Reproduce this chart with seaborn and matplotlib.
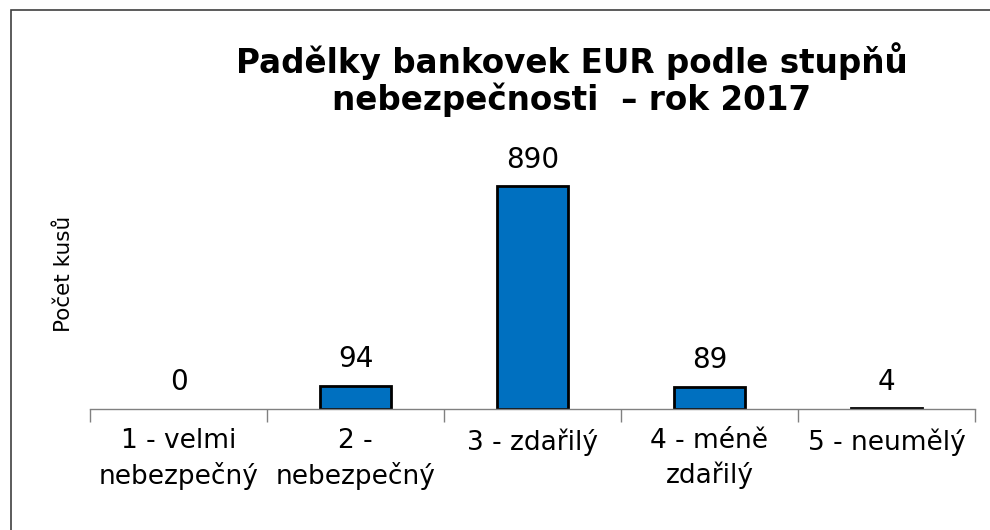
import matplotlib
matplotlib.use("Agg")
import matplotlib.pyplot as plt
import seaborn as sns
import pandas as pd
from matplotlib.patches import Rectangle

categories = ["1 - velmi\nnebezpečný", "2 -\nnebezpečný", "3 - zdařilý",
              "4 - méně\nzdařilý", "5 - neumělý"]
counts = [0, 94, 890, 89, 4]
title = "Padělky bankovek EUR podle stupňů\nnebezpečnosti  – rok 2017"
ylabel = "Počet kusů"

sns.set_theme(style="white")
plt.rcParams["font.family"] = ["DejaVu Sans"]
plt.rcParams["text.color"] = "black"
plt.rcParams["axes.labelcolor"] = "black"
plt.rcParams["xtick.color"] = "black"

df = pd.DataFrame({"stupen": categories, "kusy": counts})

fig = plt.figure(figsize=(9.9, 5.3), dpi=100)
ax = fig.add_axes([90 / 990, 1 - 409 / 530, 885 / 990, 250 / 530])

sns.barplot(data=df, x="stupen", y="kusy", color="#0070C0", saturation=1,
            width=0.4, edgecolor="black", linewidth=2, ax=ax)
for p in ax.patches:
    if p.get_height() == 0:
        p.set_linewidth(0)

for i, v in enumerate(counts):
    ax.text(i, v + 50, str(v), ha="center", va="bottom", fontsize=20)

ax.set_ylim(0, 1000)
ax.set_xlim(-0.5, 4.5)
ax.set_yticks([])
ax.set_xlabel("")
ax.set_ylabel(ylabel, fontsize=15.5)
ax.yaxis.set_label_coords(-0.018, 0.54)
for s in ["top", "right", "left"]:
    ax.spines[s].set_visible(False)
ax.spines["bottom"].set_color("#808080")
ax.spines["bottom"].set_linewidth(1)

ax.set_xticks([i - 0.5 for i in range(6)], minor=True)
ax.tick_params(axis="x", which="minor", length=9, width=1, color="#808080",
               bottom=True, direction="out")
ax.tick_params(axis="x", which="major", length=0, pad=14, labelsize=19,
               labelcolor="black")
for lab in ax.get_xticklabels():
    lab.set_linespacing(1.35)

fig.text(572 / 990, 1 - 42 / 530, title, ha="center", va="top",
         fontsize=23.5, fontweight="bold", linespacing=1.1, color="black")

fig.patches.append(Rectangle((11 / 990, -0.1), 1.2, 1 - 10 / 530 + 0.1,
                             transform=fig.transFigure, fill=False,
                             edgecolor="#404040", linewidth=1.2))

fig.savefig("out.png", dpi=100)
